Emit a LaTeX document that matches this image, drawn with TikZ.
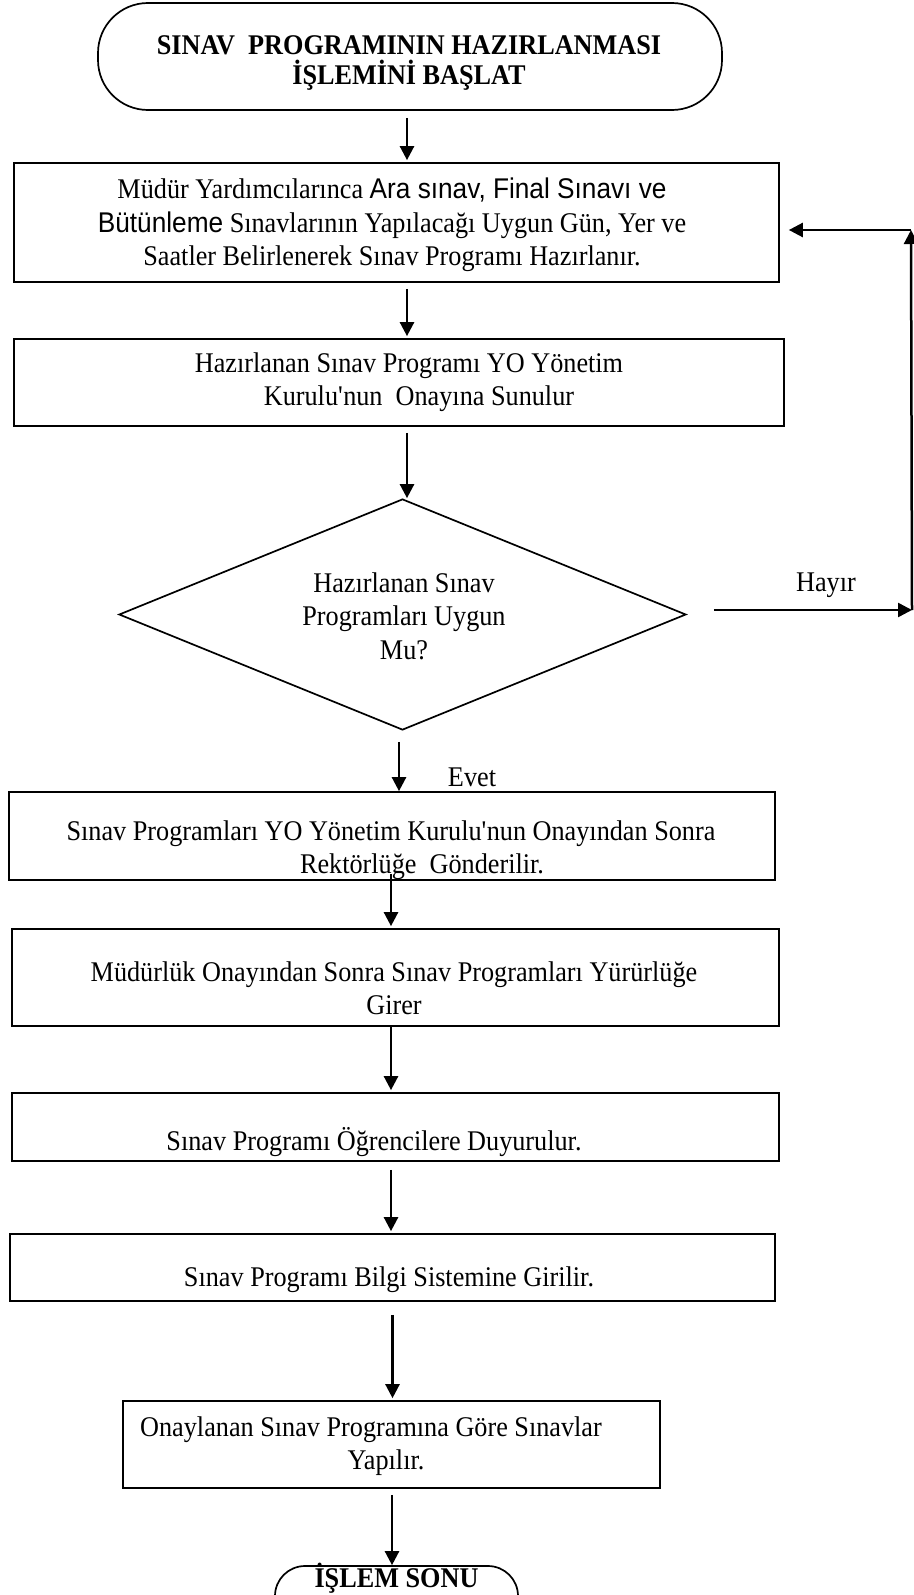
\documentclass[tikz,border=0pt]{standalone}
\usepackage{fontspec}
\setmainfont[FakeStretch=0.92]{Liberation Serif}
\setsansfont[FakeStretch=0.92]{Liberation Sans}
\usetikzlibrary{arrows.meta,shapes.geometric}
\begin{document}
\begin{tikzpicture}[x=1pt,y=-1pt,
  box/.style={draw,line width=1.7pt,inner sep=0pt,minimum width=#1},
  txt/.style={align=center,inner sep=0pt,font=\fontsize{28.5}{33.5}\selectfont},
  arr/.style={line width=2.5pt,-{Triangle[length=14pt,width=14pt]}},
  term/.style={draw,line width=1.7pt,inner sep=0pt,rounded corners=#1}]
\useasboundingbox (0,0) rectangle (913,1595);
% shapes
\node[term=50pt,minimum width=624pt,minimum height=107pt] (start) at (410,56.5) {};
\node[box=765pt,minimum height=119pt] (b1) at (396.5,222.5) {};
\node[box=770pt,minimum height=87pt] (b2) at (399,382.5) {};
\node[draw,line width=1.7pt,shape=diamond,inner sep=0pt,aspect=2.45,minimum width=567pt,minimum height=231pt] (dia) at (402.5,614.5) {};
\node[box=766pt,minimum height=88pt] (b3) at (392,836) {};
\node[box=767pt,minimum height=97pt] (b4) at (395.5,977.5) {};
\node[box=767pt,minimum height=68pt] (b5) at (395.5,1127) {};
\node[box=765pt,minimum height=67pt] (b6) at (392.5,1267.5) {};
\node[box=537pt,minimum height=87pt] (b7) at (391.5,1444.5) {};
\node[term=30pt,minimum width=243pt,minimum height=62pt] (end) at (396.5,1597) {};
% texts
\node[txt,font=\fontsize{28.5}{30.5}\selectfont\bfseries] (ts) at (409,63) {SINAV\ \ PROGRAMININ HAZIRLANMASI\\İŞLEMİNİ BAŞLAT};
\node[txt] (t1) at (392,225) {Müdür Yardımcılarınca {\sffamily Ara sınav, Final Sınavı ve}\\{\sffamily Bütünleme} Sınavlarının Yapılacağı Uygun Gün, Yer ve\\Saatler Belirlenerek Sınav Programı Hazırlanır.};
\node[txt] (t2) at (404,382) {Hazırlanan Sınav Programı YO Yönetim\hspace*{-10pt}\\\hspace*{30pt}Kurulu\textquotesingle nun\ \ Onayına Sunulur};
\node[txt] (td) at (404,616) {Hazırlanan Sınav\\Programları Uygun\\Mu?};
\node[txt] (t3) at (391,850) {Sınav Programları YO Yönetim Kurulu\textquotesingle nun Onayından Sonra\\\hspace*{62pt}Rektörlüğe\ \ Gönderilir.};
\node[txt] (t4) at (394,988) {Müdürlük Onayından Sonra Sınav Programları Yürürlüğe\\Girer};
\node[txt] (t5) at (374,1142) {Sınav Programı Öğrencilere Duyurulur.};
\node[txt] (t6) at (389,1280) {Sınav Programı Bilgi Sistemine Girilir.};
\node[txt] (t7) at (371,1446) {Onaylanan Sınav Programına Göre Sınavlar\\\hspace*{30pt}Yapılır.};
\node[txt,font=\fontsize{28.5}{30.5}\selectfont\bfseries] (te) at (396.5,1578) {İŞLEM SONU};
\node[txt] (hayir) at (826,585) {Hayır};
\node[txt] (evet) at (472,777) {Evet};
% connectors
\coordinate (h1) at (912,610);
\coordinate (h2) at (911,230);
\draw[arr] ([xshift=-3pt,yshift=-7pt]start.south) -- ([xshift=-3pt,yshift=2pt]start.south |- b1.north);
\draw[arr] ([xshift=10.5pt,yshift=-6pt]b1.south) -- ([xshift=10.5pt,yshift=2pt]b1.south |- b2.north);
\draw[arr] ([xshift=8pt,yshift=-6pt]b2.south) -- ([xshift=8pt]b2.south |- dia.north);
\draw[arr] ([xshift=-3.5pt,yshift=-11pt]dia.south) -- ([xshift=-3.5pt]dia.south |- b3.north);
\draw[arr] ([xshift=-1pt,yshift=7pt]b3.south) -- ([xshift=-1pt,yshift=2pt]b3.south |- b4.north);
\draw[arr] ([xshift=-4.5pt]b4.south) -- ([xshift=-4.5pt,yshift=2pt]b4.south |- b5.north);
\draw[arr] ([xshift=-4.5pt,yshift=-8pt]b5.south) -- ([xshift=-4.5pt,yshift=2pt]b5.south |- b6.north);
\draw[arr] ([yshift=-13pt]b6.south) -- ([yshift=2pt]b6.south |- b7.north);
\draw[arr] ([xshift=0.5pt,yshift=-6pt]b7.south) -- ([xshift=0.5pt]b7.south |- end.north);
\draw[arr] ([xshift=27pt,yshift=4.5pt]dia.east) -- (h1);
\draw[arr] (h1) -- (h2);
\draw[arr] (h2) -- ([xshift=9pt]b1.east |- h2);
\end{tikzpicture}
\end{document}
